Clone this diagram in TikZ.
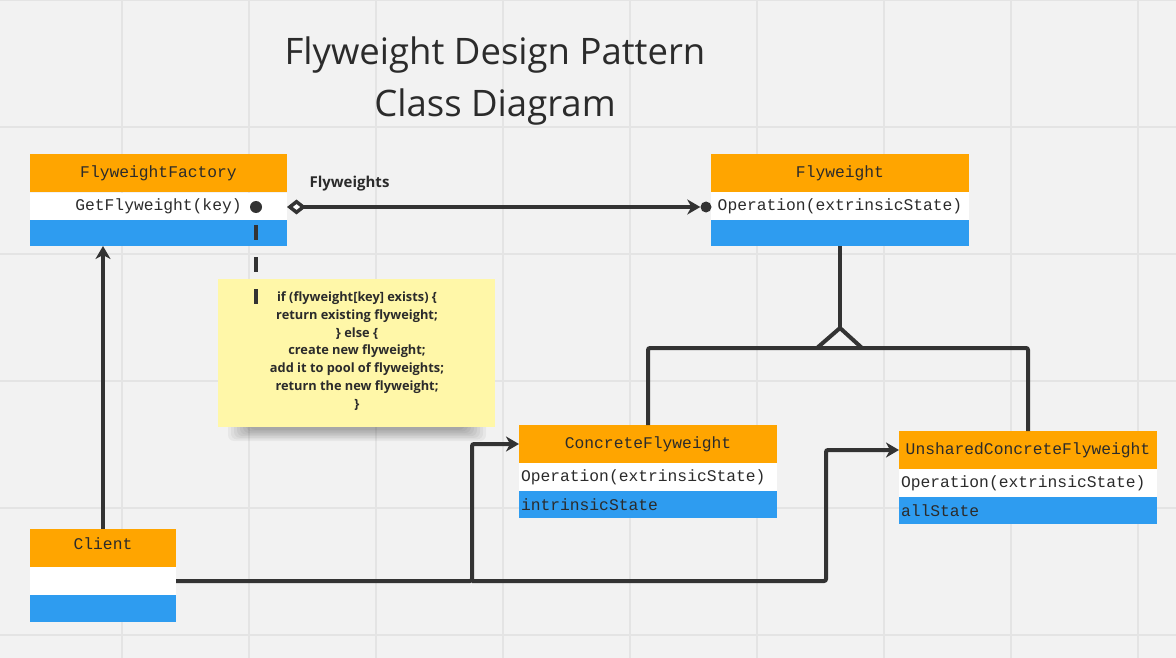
\documentclass[tikz,border=0pt]{standalone}
\usepackage{fontspec}
\setmainfont{Open Sans}
\newfontfamily\monof{Liberation Mono}
\usetikzlibrary{arrows.meta,calc}
\definecolor{bg}{HTML}{F2F2F2}
\definecolor{gridc}{HTML}{E4E4E4}
\definecolor{hdr}{HTML}{FFA500}
\definecolor{foot}{HTML}{2E9CF0}
\definecolor{ink}{HTML}{333333}
\definecolor{txt}{HTML}{2B2B2B}
\definecolor{notec}{HTML}{FFF7A8}
\tikzset{
  classpart/.style={anchor=north west, inner sep=0pt, outer sep=0pt, text=txt,
    font=\monof\fontsize{16.3}{18}\selectfont},
  hdrbox/.style={classpart, fill=hdr, minimum height=38pt},
  methbox/.style={classpart, fill=white, minimum height=28pt},
  footbox/.style={classpart, fill=foot, minimum height=27pt},
  leftal/.style={text width=#1, align=left, inner xsep=2pt},
  conn/.style={draw=ink, line width=4pt, rounded corners=2pt},
  arr/.style={-{Stealth[length=13pt,width=15pt,inset=4pt]}},
  dotnode/.style={circle, fill=ink, inner sep=0pt, minimum size=#1},
  titletext/.style={font=\fontsize{36.5}{52}\selectfont, text=txt, anchor=base},
}
\begin{document}
\begin{tikzpicture}[x=1pt,y=-1pt]
\useasboundingbox (0,0) rectangle (1176,658);
\fill[bg] (0,0) rectangle (1176,658);
% grid
\foreach \gx in {122,249,376,503,630,757,884,1011,1138}
  \draw[gridc, line width=1.5pt] (\gx,0) -- (\gx,658);
\foreach \gy in {0,127,254,381,508,635}
  \draw[gridc, line width=1.5pt] (0,\gy) -- (1176,\gy);

% title
\node[titletext] (title1) at (495,65) {Flyweight Design Pattern};
\node[titletext] (title2) at (495,117) {Class Diagram};

% FlyweightFactory
\node[hdrbox, minimum width=257pt] (ffh) at (30,154) {FlyweightFactory};
\node[methbox, minimum width=257pt, minimum height=27pt] (ffm) at (30,193) {GetFlyweight(key)};
\node[footbox, minimum width=257pt, minimum height=26pt] (fff) at (30,220) {};

% Flyweight
\node[hdrbox, minimum width=258pt] (fwh) at (711,154) {Flyweight};
\node[methbox, minimum width=258pt] (fwm) at (711,192) {Operation(extrinsicState)};
\node[footbox, minimum width=258pt, minimum height=26pt] (fwf) at (711,220) {};

% ConcreteFlyweight
\node[hdrbox, minimum width=258pt] (cfh) at (519,425) {ConcreteFlyweight};
\node[methbox, leftal=254pt] (cfm) at (519,463) {Operation(extrinsicState)};
\node[footbox, leftal=254pt] (cff) at (519,491) {intrinsicState};

% UnsharedConcreteFlyweight
\node[hdrbox, minimum width=258pt] (ucfh) at (899,431) {UnsharedConcreteFlyweight};
\node[methbox, leftal=254pt] (ucfm) at (899,469) {Operation(extrinsicState)};
\node[footbox, leftal=254pt] (ucff) at (899,497) {allState};

% Client
\node[hdrbox, minimum width=146pt] (clh) at (30,529) {\raisebox{8pt}{Client}};
\node[methbox, minimum width=146pt] (clm) at (30,567) {};
\node[footbox, minimum width=146pt] (clf) at (30,595) {};

% note shadow
\foreach \i in {0,...,7}
  \fill[black, opacity=0.045, rounded corners=6pt]
    (228+\i*3,300) rectangle (486-\i*3,441-\i*1.6);
% note
\node[fill=notec, minimum width=277pt, minimum height=148pt, anchor=north west,
      inner sep=0pt] (note) at (218,279) {};
\node[font=\bfseries\fontsize{12.8}{17.8}\selectfont, text=txt, align=center] (notetext) at (357,351)
  {if (flyweight[key] exists) \{\\return existing flyweight;\\\} else \{\\create new flyweight;\\add it to pool of flyweights;\\return the new flyweight;\\\}};

% note link (dashed)
\node[dotnode=12pt] (fdot) at (256,207) {};
\coordinate (dstart) at (256,225);
\coordinate (dend) at (256,305);
\draw[draw=ink, line width=4pt, dash pattern=on 15pt off 17pt] (dstart) -- (dend);

% aggregation Flyweights
\node[dotnode=11pt] (fwdot) at (706,207) {};
\coordinate (aggstart) at (287,207);
\draw[conn, {Diamond[length=19pt,width=15pt,fill=white,line width=3.5pt]}-{Stealth[length=13pt,width=15pt,inset=4pt]}]
  (aggstart) -- (fwdot.west);
\node[font=\bfseries\fontsize{15}{17}\selectfont, text=txt, anchor=base west] (flylabel) at (306,188) {Flyweights};

% inheritance
\coordinate (apex) at (840,328);
\coordinate (tl) at (817,348);
\coordinate (tr) at (862,348);
\draw[conn, rounded corners=0pt] (fwf.south) -- (apex);
\draw[conn, rounded corners=0pt, line join=miter] (tl) -- (apex) -- (tr);
\draw[conn] (cfh.north) |- (ucfh.north |- tl) -- (ucfh.north);

% client -> factory
\draw[conn, arr] (clh.north) -- (clh.north |- fff.south);

% client -> concrete / unshared
\coordinate (j1) at (472,581);
\coordinate (j2) at (826,581);
\draw[conn, arr] (clm.east) -- (j1) |- (cfh.west);
\draw[conn, arr] (j1) -- (j2) |- (ucfh.west);
\end{tikzpicture}
\end{document}
